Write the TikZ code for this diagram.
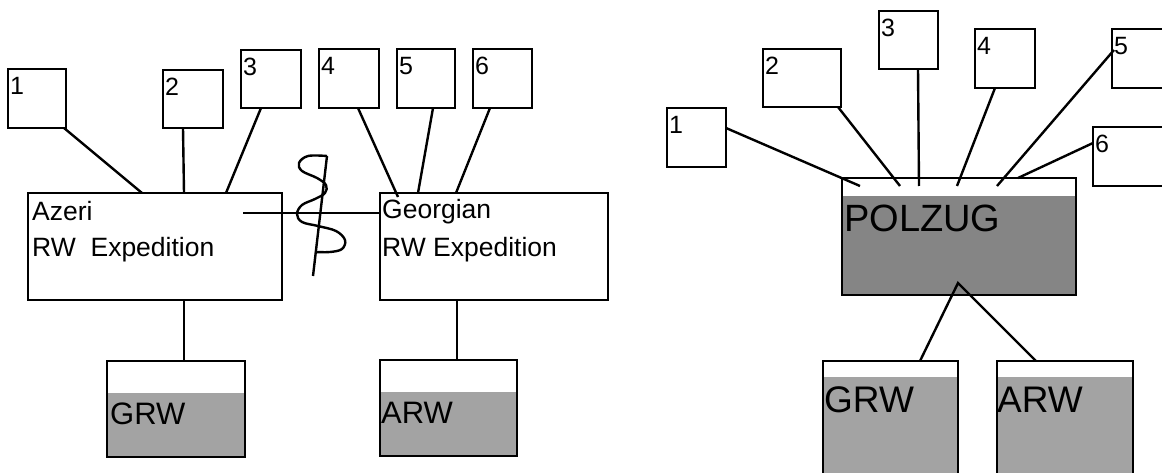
\documentclass[tikz,border=0pt]{standalone}
\usepackage{fontspec}
\setmainfont{Liberation Sans}
\usetikzlibrary{calc}
\definecolor{grayA}{HTML}{858585}
\definecolor{grayB}{HTML}{A3A3A3}
\tikzset{
  bx/.style={draw, line width=2.6pt, inner sep=0pt, outer sep=0pt, anchor=north west},
  part/.style 2 args={path picture={\fill[#1] ($(path picture bounding box.north west)+(0,#2)$) rectangle (path picture bounding box.south east);}},
  num/.style={font=\fontsize{25}{25}\selectfont, inner sep=0pt, anchor=north west},
  lab/.style={font=\fontsize{26.5}{30}\selectfont, inner sep=0pt, anchor=base west},
  biglab/.style={font=\fontsize{#1}{#1}\selectfont, inner sep=0pt, anchor=base west},
  ln/.style={line width=2.4pt},
}
\begin{document}
\begin{tikzpicture}[x=1pt,y=-1pt]
\useasboundingbox (0,0) rectangle (1162,473);
% ---------- left diagram ----------
\node[bx, minimum width=58pt, minimum height=59pt] (l1) at (8,69) {};
\node[bx, minimum width=60pt, minimum height=58pt] (l2) at (163,70) {};
\node[bx, minimum width=60pt, minimum height=58pt] (l3) at (241,50) {};
\node[bx, minimum width=60pt, minimum height=59pt] (l4) at (319,49) {};
\node[bx, minimum width=58pt, minimum height=59pt] (l5) at (397,49) {};
\node[bx, minimum width=59pt, minimum height=59pt] (l6) at (473,49) {};
\foreach \b/\t in {l1/1,l2/2,l3/3,l4/4,l5/5,l6/6}
  \node[num] (\b n) at ($(\b.north west)+(2,8)$) {\t};

\node[bx, minimum width=254pt, minimum height=107pt] (az) at (28,193) {};
\node[lab] (azt1) at ($(az.north west)+(4,28)$) {Azeri};
\node[lab] (azt2) at ($(az.north west)+(4,64)$) {RW\ \ Expedition};
\node[bx, minimum width=228pt, minimum height=107pt] (ge) at (380,193) {};
\node[lab] (get1) at ($(ge.north west)+(2,26)$) {Georgian};
\node[lab] (get2) at ($(ge.north west)+(2,64)$) {RW Expedition};

\node[bx, part={grayB}{32}, minimum width=138pt, minimum height=96pt] (grw) at (107,361) {};
\node[biglab=31] (grwt) at ($(grw.north west)+(3,63)$) {GRW};
\node[bx, part={grayB}{32}, minimum width=137pt, minimum height=96pt] (arw) at (380,360) {};
\node[biglab=31] (arwt) at ($(arw.north west)+(1,63)$) {ARW};

\draw[ln] ($(l1.south east)+(-2,0)$) -- ($(az.north west)+(114,0)$);
\draw[ln] ($(l2.south west)+(20,0)$) -- ($(az.north west)+(156,0)$);
\draw[ln] ($(l3.south west)+(20,0)$) -- ($(az.north west)+(198,0)$);
\draw[ln] ($(l4.south west)+(39,0)$) -- ($(ge.north west)+(18,4)$);
\draw[ln] ($(l5.south west)+(36,0)$) -- ($(ge.north west)+(38,0)$);
\draw[ln] ($(l6.south west)+(17,0)$) -- ($(ge.north west)+(76,0)$);
\draw[ln] ($(az.south west)+(156,0)$) -- ($(grw.north west)+(77,0)$);
\draw[ln] ($(ge.south west)+(77,0)$) -- ($(arw.north west)+(77,0)$);
\coordinate (hs) at ($(az.north west)+(215,20)$);
\draw[ln] (hs) -- ($(ge.north west)+(0,20)$);
% squiggle
\draw[ln] (327,156) -- (313,276);
\draw[ln] plot[smooth, tension=0.6] coordinates {(327,156) (308,156) (299,163) (302,171) (317,178) (326,185) (325,193) (315,199) (302,205) (297,214) (302,222) (318,226) (336,231) (345,240) (342,249) (330,252) (315,252)};

% ---------- right diagram ----------
\node[bx, minimum width=59pt, minimum height=59pt] (r1) at (667,108) {};
\node[bx, minimum width=78pt, minimum height=58pt] (r2) at (763,49) {};
\node[bx, minimum width=59pt, minimum height=58pt] (r3) at (879,11) {};
\node[bx, minimum width=60pt, minimum height=59pt] (r4) at (975,29) {};
\node[bx, minimum width=70pt, minimum height=59pt] (r5) at (1112,29) {};
\node[bx, minimum width=80pt, minimum height=59pt] (r6) at (1093,127) {};
\foreach \b/\t in {r1/1,r2/2,r3/3,r4/4,r5/5,r6/6}
  \node[num] (\b n) at ($(\b.north west)+(2,8)$) {\t};

\node[bx, part={grayA}{18}, minimum width=234pt, minimum height=117pt] (pz) at (842,178) {};
\node[biglab=38] (pzt) at ($(pz.north west)+(2,54)$) {POLZUG};
\node[bx, part={grayB}{16}, minimum width=135pt, minimum height=125pt] (rg) at (823,361) {};
\node[biglab=37] (rgt) at ($(rg.north west)+(1,51)$) {GRW};
\node[bx, part={grayB}{16}, minimum width=136pt, minimum height=125pt] (ra) at (997,361) {};
\node[biglab=37] (rat) at ($(ra.north west)+(0,51)$) {ARW};

\draw[ln] ($(r1.north east)+(0,20)$) -- ($(pz.north west)+(18,8)$);
\draw[ln] ($(r2.south east)+(-3,0)$) -- ($(pz.north west)+(58,8)$);
\draw[ln] ($(r3.south west)+(39,0)$) -- ($(pz.north west)+(77,8)$);
\draw[ln] ($(r4.south west)+(20,0)$) -- ($(pz.north west)+(115,8)$);
\draw[ln] ($(r5.north west)+(2,21)$) -- ($(pz.north west)+(155,8)$);
\draw[ln] ($(r6.north west)+(0,16)$) -- ($(pz.north west)+(176,0)$);
\coordinate (pzb) at ($(pz.north west)+(116,105)$);
\draw[ln] ($(rg.north west)+(97,0)$) -- (pzb) -- ($(ra.north west)+(39,0)$);
\end{tikzpicture}
\end{document}
